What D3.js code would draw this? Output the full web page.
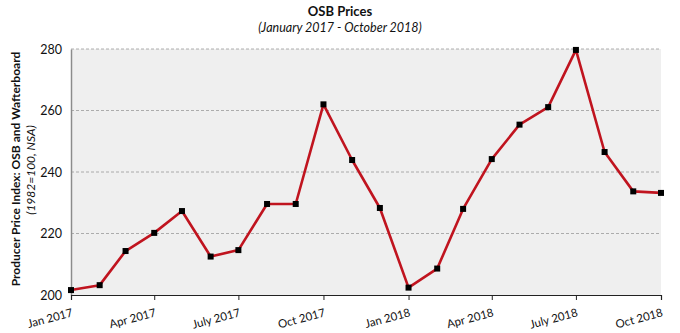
<!DOCTYPE html>
<html>
<head>
<meta charset="utf-8">
<script src="https://cdn.jsdelivr.net/npm/d3@7"></script>
<style>
  body { margin: 0; background: #fff; }
  svg { font-family: Lato, 'Open Sans', sans-serif; }
</style>
</head>
<body>
<div id="chart"></div>
<script>
// monthly OSB producer price index, Jan 2017 .. Oct 2018
const months = [
  '2017-01', '2017-02', '2017-03', '2017-04', '2017-05', '2017-06',
  '2017-07', '2017-08', '2017-09', '2017-10', '2017-11', '2017-12',
  '2018-01', '2018-02', '2018-03', '2018-04', '2018-05', '2018-06',
  '2018-07', '2018-08', '2018-09', '2018-10'
];
const ppi = [
  201.6, 203.2, 214.3, 220.2, 227.3, 212.5,
  214.6, 229.6, 229.6, 262.0, 243.9, 228.3,
  202.4, 208.6, 228.0, 244.2, 255.4, 261.1,
  279.7, 246.5, 233.7, 233.2
];
const tickMonths = ['2017-01', '2017-04', '2017-07', '2017-10', '2018-01', '2018-04', '2018-07', '2018-10'];
const tickLabels = ['Jan 2017', 'Apr 2017', 'July 2017', 'Oct 2017', 'Jan 2018', 'Apr 2018', 'July 2018', 'Oct 2018'];
const yTicks = [200, 220, 240, 260, 280];

const W = 680, H = 333;
const margin = { top: 49, right: 19, bottom: 38, left: 71 };
const width = W - margin.left - margin.right;
const height = H - margin.top - margin.bottom;

const parse = d3.timeParse('%Y-%m');
const data = months.map((m, i) => ({ date: parse(m), value: ppi[i] }));

const svg = d3.select('#chart').append('svg')
  .attr('width', W)
  .attr('height', H);

const g = svg.append('g')
  .attr('transform', `translate(${margin.left},${margin.top})`);

const x = d3.scaleTime()
  .domain(d3.extent(data, d => d.date))
  .range([0, width]);

const y = d3.scaleLinear()
  .domain([200, 280])
  .range([height, 0]);

// plot background
g.append('rect')
  .attr('width', width)
  .attr('height', height)
  .attr('fill', '#efefef');

// dashed gridlines
g.selectAll('.grid')
  .data(yTicks.slice(1))
  .enter()
  .append('line')
  .attr('class', 'grid')
  .attr('x1', 0)
  .attr('x2', width)
  .attr('y1', d => y(d))
  .attr('y2', d => y(d))
  .attr('stroke', '#9a9a9a')
  .attr('stroke-width', 0.8)
  .attr('stroke-dasharray', '3,2');

// y axis
const yAxis = g.append('g')
  .call(d3.axisLeft(y).tickValues(yTicks).tickSize(0).tickPadding(9));
yAxis.select('.domain').attr('stroke', '#8c8c8c').attr('stroke-width', 1.5);
yAxis.selectAll('text')
  .attr('font-size', 12.5)
  .attr('fill', '#111')
  .attr('font-family', 'Lato, sans-serif');

// x axis
const xAxis = g.append('g')
  .attr('transform', `translate(0,${height})`)
  .call(d3.axisBottom(x)
    .tickValues(tickMonths.map(parse))
    .tickSize(5)
    .tickFormat((d, i) => tickLabels[i]));
xAxis.select('.domain').attr('stroke', '#222').attr('stroke-width', 1.2);
xAxis.selectAll('line').attr('stroke', '#222');
xAxis.selectAll('text')
  .attr('font-size', 11.5)
  .attr('fill', '#111')
  .attr('font-family', 'Lato, sans-serif')
  .attr('text-anchor', 'end')
  .attr('dy', 0)
  .attr('y', 0)
  .attr('transform', 'translate(2,21) rotate(-15)');

// line
const line = d3.line()
  .x(d => x(d.date))
  .y(d => y(d.value));

g.append('path')
  .datum(data)
  .attr('fill', 'none')
  .attr('stroke', '#c0141f')
  .attr('stroke-width', 2.6)
  .attr('stroke-linejoin', 'round')
  .attr('d', line);

// markers
g.selectAll('.dot')
  .data(data)
  .enter()
  .append('rect')
  .attr('class', 'dot')
  .attr('x', d => x(d.date) - 3)
  .attr('y', d => y(d.value) - 3)
  .attr('width', 6)
  .attr('height', 6)
  .attr('fill', '#000');

// titles
svg.append('text')
  .attr('x', 340)
  .attr('y', 16)
  .attr('text-anchor', 'middle')
  .attr('font-weight', 'bold')
  .attr('font-size', 13)
  .attr('fill', '#111')
  .text('OSB Prices');

svg.append('text')
  .attr('x', 340)
  .attr('y', 32)
  .attr('text-anchor', 'middle')
  .attr('font-style', 'italic')
  .attr('font-size', 12.5)
  .attr('fill', '#111')
  .text('(January 2017 - October 2018)');

// y axis labels
const cy = margin.top + height / 2;
svg.append('text')
  .attr('transform', `translate(20,${cy - 3}) rotate(-90)`)
  .attr('text-anchor', 'middle')
  .attr('font-weight', 'bold')
  .attr('font-size', 12)
  .attr('fill', '#111')
  .text('Producer Price Index: OSB and Wafterboard');

svg.append('text')
  .attr('transform', `translate(35,${cy - 2}) rotate(-90)`)
  .attr('text-anchor', 'middle')
  .attr('font-style', 'italic')
  .attr('font-size', 12)
  .attr('fill', '#111')
  .text('(1982=100, NSA)');
</script>
</body>
</html>
